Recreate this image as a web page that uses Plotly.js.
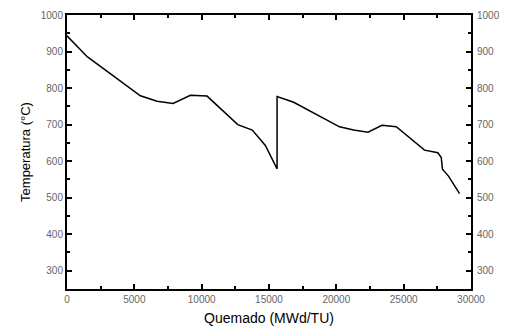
<!DOCTYPE html>
<html>
<head>
<meta charset="utf-8">
<script src="https://cdn.plot.ly/plotly-3.0.1.min.js"></script>
<style>html,body{margin:0;padding:0;background:#fff;}#chart{width:506px;height:330px;}</style>
</head>
<body>
<div id="chart"></div>
<script>
var burnup = [0, 1500, 5450, 6690, 7880, 9160, 10400, 12680, 13760, 14730, 15600, 15600, 16830, 20240, 21280, 22350, 23390, 24450, 26550, 27540, 27790, 27880, 28330, 29150];
var temperature = [943, 886, 779, 764, 758, 780, 778, 700, 685, 643, 579, 777, 761, 694, 685, 679, 698, 694, 630, 623, 610, 578, 559, 511];
var xTitle = 'Quemado (MWd/TU)';
var yTitle = 'Temperatura (°C)';

var tickFont = {family: 'Liberation Sans, Arial, sans-serif', size: 10, color: '#666'};
var xTitleFont = {family: 'Liberation Sans, Arial, sans-serif', size: 14, color: '#000'};
var yTitleFont = {family: 'Liberation Sans, Arial, sans-serif', size: 13, color: '#000'};

var data = [
  {x: burnup, y: temperature, type: 'scatter', mode: 'lines',
   line: {color: '#000', width: 1.5}, hoverinfo: 'skip', showlegend: false},
  {x: burnup, y: temperature, type: 'scatter', mode: 'lines', yaxis: 'y2',
   line: {color: 'rgba(0,0,0,0)', width: 0}, hoverinfo: 'skip', showlegend: false}
];

var layout = {
  width: 506, height: 330,
  margin: {l: 66.5, r: 35, t: 15, b: 40.5},
  paper_bgcolor: '#fff', plot_bgcolor: '#fff',
  showlegend: false,
  xaxis: {
    range: [0, 30000], dtick: 5000, tick0: 0, tickformat: 'd',
    showgrid: false, zeroline: false,
    showline: true, linecolor: '#000', linewidth: 2,
    mirror: 'ticks', ticks: 'inside', ticklen: 5, tickwidth: 2, tickcolor: '#000',
    minor: {dtick: 2500, ticks: 'inside', ticklen: 3, tickwidth: 2, tickcolor: '#000', showgrid: false},
    tickfont: tickFont,
    title: {text: xTitle, font: xTitleFont, standoff: 9}
  },
  yaxis: {
    range: [250, 1000], dtick: 100, tick0: 300,
    showgrid: false, zeroline: false,
    showline: true, linecolor: '#000', linewidth: 2,
    mirror: 'ticks', ticks: 'inside', ticklen: 5, tickwidth: 2, tickcolor: '#000',
    minor: {dtick: 50, ticks: 'inside', ticklen: 3, tickwidth: 2, tickcolor: '#000', showgrid: false},
    tickfont: tickFont,
    title: {text: yTitle, font: yTitleFont, standoff: 7}
  },
  yaxis2: {
    overlaying: 'y', side: 'right', anchor: 'x',
    range: [250, 1000], dtick: 100, tick0: 300,
    showgrid: false, zeroline: false, showline: false,
    ticks: '', ticklabelstandoff: 5, tickfont: tickFont
  }
};

Plotly.newPlot('chart', data, layout, {displayModeBar: false, staticPlot: true});
</script>
</body>
</html>
